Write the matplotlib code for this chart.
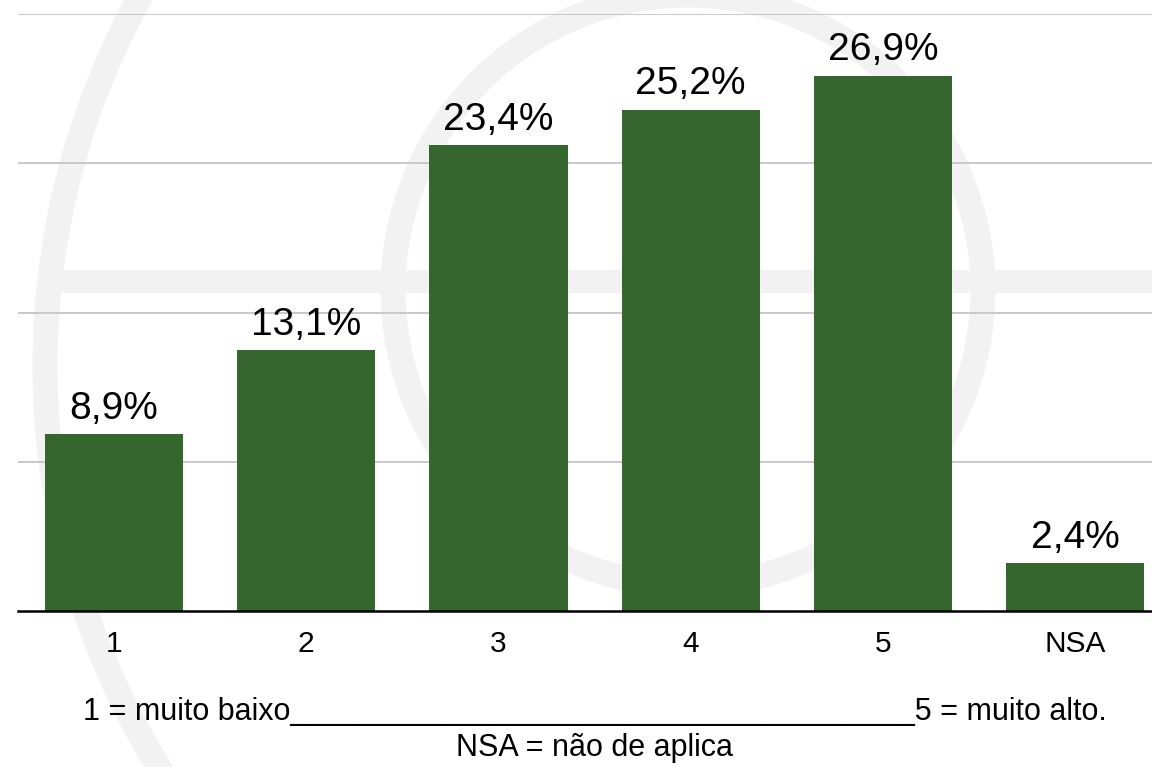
import matplotlib.pyplot as plt
from matplotlib.patches import Circle, Rectangle

categories = ['1', '2', '3', '4', '5', 'NSA']
values = [8.9, 13.1, 23.4, 25.2, 26.9, 2.4]
labels = ['8,9%', '13,1%', '23,4%', '25,2%', '26,9%', '2,4%']
grid_ticks = [7.5, 15, 22.5, 30]

plt.rcParams['font.family'] = ['Liberation Sans', 'DejaVu Sans']

fig = plt.figure(figsize=(11.52, 7.67), dpi=100)

# faint watermark logo behind the chart (pixel coordinates, y down)
wm = '#f2f2f2'
bg = fig.add_axes([0, 0, 1, 1], zorder=0)
bg.set_xlim(0, 1152)
bg.set_ylim(767, 0)
bg.axis('off')
bg.add_patch(Circle((809, 366), 764, fill=False, ec=wm, lw=18))
bg.add_patch(Circle((688, 290), 295, fill=False, ec=wm, lw=18))
bg.add_patch(Rectangle((45, 270), 1107, 23, color=wm, lw=0))

ax = fig.add_axes([18 / 1152, 156 / 767, 1134 / 1152, 597 / 767], zorder=1)
ax.patch.set_alpha(0)

x = range(len(categories))
ax.bar(x, values, width=0.72, color='#35662e', zorder=2)
for xi, v, lab in zip(x, values, labels):
    ax.annotate(lab, (xi, v), xytext=(0, 11), textcoords='offset points',
                ha='center', va='baseline', fontsize=28)

ax.set_xlim(-0.5, 5.40)
ax.set_ylim(0, 30)
ax.set_yticks(grid_ticks)
ax.set_yticklabels([])
ax.tick_params(axis='y', length=0)
ax.yaxis.grid(True, color='#c8c8c8', lw=1.4)
ax.set_axisbelow(True)

ax.set_xticks(list(x))
ax.set_xticklabels(categories, fontsize=21.5)
ax.tick_params(axis='x', length=0, pad=14)

for s in ['top', 'right', 'left']:
    ax.spines[s].set_visible(False)
ax.spines['bottom'].set_linewidth(1.8)
ax.spines['bottom'].set_zorder(3)

fig.text(595 / 1152, 1 - 712 / 767,
         '1 = muito baixo' + '_' * 37 + '5 = muito alto.',
         ha='center', va='center', fontsize=22)
fig.text(595 / 1152, 1 - 748 / 767, 'NSA = não de aplica',
         ha='center', va='center', fontsize=22)

fig.savefig('out.png', dpi=100)
